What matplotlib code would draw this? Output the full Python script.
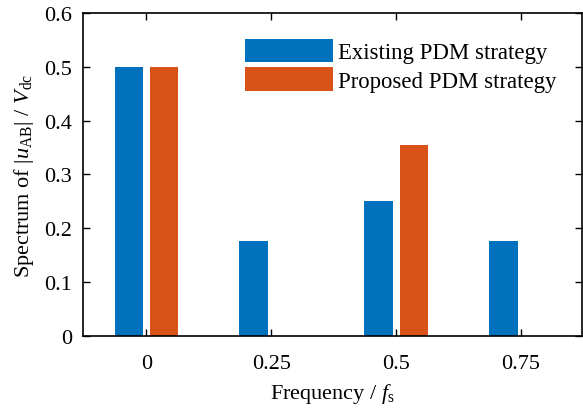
import matplotlib
matplotlib.use('Agg')
import matplotlib.pyplot as plt
import numpy as np

# spectrum values
freqs = [0, 0.25, 0.5, 0.75]
freq_labels = ['0', '0.25', '0.5', '0.75']
existing = [0.5, 0.177, 0.25, 0.177]
proposed = [0.5, 0.0, 0.354, 0.0]
series_names = ['Existing PDM strategy', 'Proposed PDM strategy']

plt.rcParams['font.family'] = 'Liberation Serif'
plt.rcParams['mathtext.fontset'] = 'custom'
plt.rcParams['mathtext.rm'] = 'Liberation Serif'
plt.rcParams['mathtext.it'] = 'Liberation Serif:italic'
plt.rcParams['font.size'] = 16

fig = plt.figure(figsize=(5.83, 4.10), dpi=100)
ax = fig.add_axes([0.1424, 0.178, 0.856, 0.788])

x = np.array(freqs)
w = 0.0566
off = 0.0355
ax.bar(x - off, existing, w, color='#0072BD', label=series_names[0])
ax.bar(x + off, proposed, w, color='#D95319', label=series_names[1])

ax.set_xlim(-0.127, 0.872)
ax.set_ylim(0, 0.6)
ax.set_xticks(freqs)
ax.set_xticklabels(freq_labels)
ax.set_yticks(np.arange(0, 0.61, 0.1))
ax.set_yticklabels(['0', '0.1', '0.2', '0.3', '0.4', '0.5', '0.6'])
ax.tick_params(direction='in', length=5, width=1, top=True, right=True)
ax.tick_params(axis='y', pad=8)
ax.tick_params(axis='x', pad=13)
for s in ax.spines.values():
    s.set_linewidth(1.2)

ax.set_xlabel('Frequency / $f_{\\rm s}$', labelpad=6)
ax.set_ylabel('Spectrum of |$u_{\\rm AB}$| / $V_{\\rm dc}$', labelpad=6)

ax.legend(loc='upper left', frameon=False, handlelength=3.85, handleheight=1.2,
          handletextpad=0.22, labelspacing=0.17, borderaxespad=0,
          fontsize=16.4, borderpad=0,
          bbox_to_anchor=((245 - 83) / 498, (337 - 40) / 323))

fig.savefig('out.png', dpi=100)
